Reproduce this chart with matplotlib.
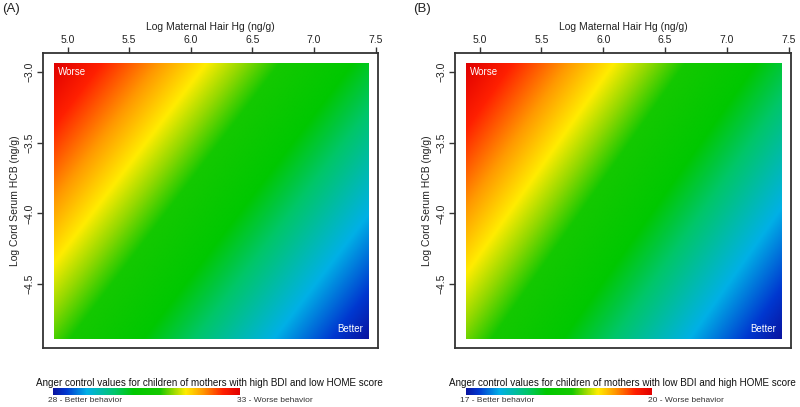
import numpy as np
import matplotlib
matplotlib.use("Agg")
import matplotlib.pyplot as plt
import matplotlib.tri as mtri
from matplotlib.colors import LinearSegmentedColormap, Normalize
from matplotlib.cm import ScalarMappable

plt.rcParams['font.family'] = ['Liberation Sans', 'DejaVu Sans']

# grid corners of the prediction surface
hg_edges = [4.89, 7.44]          # log maternal hair Hg
hcb_edges = [-4.887, -2.94]      # log cord serum HCB

# predicted anger control at corners: [[bottom-left, bottom-right], [top-left, top-right]]
anger_a = [[31.0, 28.0], [33.0, 30.0]]
anger_b = [[18.86, 17.0], [20.0, 18.14]]
range_a = [28, 33]
range_b = [17, 20]

panel_tags = ['(A)', '(B)']
cbar_titles = ['Anger control values for children of mothers with high BDI and low HOME score',
               'Anger control values for children of mothers with low BDI and high HOME score']
x_ticks = [5.0, 5.5, 6.0, 6.5, 7.0, 7.5]
y_ticks = [-3.0, -3.5, -4.0, -4.5]

stops = [(0.0, '#0a14a0'), (0.07, '#0038d0'), (0.18, '#00b0e6'), (0.33, '#00c66a'),
         (0.43, '#00c800'), (0.57, '#14c800'), (0.64, '#90d800'), (0.71, '#ffec00'),
         (0.80, '#ff9a00'), (0.91, '#ff2000'), (1.0, '#e00000')]
cmap = LinearSegmentedColormap.from_list('anger', stops, N=512)

fig = plt.figure(figsize=(8, 4.07), dpi=100)

panels = [
    dict(left=43, right=378, data=anger_a, rng=range_a, cb_left=53.3, cb_right=240, title_x=209.5,
         lab_l=48, lab_r=237, tag_x=2),
    dict(left=455, right=791, data=anger_b, rng=range_b, cb_left=466, cb_right=652, title_x=622,
         lab_l=460, lab_r=648, tag_x=413),
]

W, H = 800, 407
top, bottom = 53, 348
for i, p in enumerate(panels):
    ax = fig.add_axes([p['left'] / W, (H - bottom) / H, (p['right'] - p['left']) / W, (bottom - top) / H])
    z = np.array(p['data'])
    # linear surface through the corner values, evaluated by matplotlib's triangle interpolator
    cx = np.array([hg_edges[0], hg_edges[1], hg_edges[0], hg_edges[1]])
    cy = np.array([hcb_edges[0], hcb_edges[0], hcb_edges[1], hcb_edges[1]])
    tri = mtri.Triangulation(cx, cy, triangles=[[0, 1, 3], [0, 3, 2]])
    interp = mtri.LinearTriInterpolator(tri, z.ravel())
    gx, gy = np.meshgrid(np.linspace(hg_edges[0], hg_edges[1], 400),
                         np.linspace(hcb_edges[0], hcb_edges[1], 400))
    surf = interp(gx, gy)
    ax.imshow(surf, origin='lower', extent=[hg_edges[0], hg_edges[1], hcb_edges[0], hcb_edges[1]],
              cmap=cmap, vmin=p['rng'][0], vmax=p['rng'][1], aspect='auto', interpolation='bilinear')
    ax.set_xlim(4.80, 7.52)
    ax.set_ylim(-4.95, -2.868)
    ax.xaxis.tick_top()
    ax.xaxis.set_label_position('top')
    ax.set_xticks(x_ticks)
    ax.set_xticklabels([f'{t:.1f}' for t in x_ticks])
    ax.set_yticks(y_ticks)
    ax.set_yticklabels([f'{t:.1f}'.replace('-', '\u2212') for t in y_ticks], rotation=90, va='center')
    ax.tick_params(direction='out', length=4, width=1, colors='#333333', labelsize=7.5,
                   labelcolor='#222222', pad=2)
    ax.set_xlabel('Log Maternal Hair Hg (ng/g)', fontsize=7.5, labelpad=3, color='#222222')
    ax.set_ylabel('Log Cord Serum HCB (ng/g)', fontsize=7.5, labelpad=3, color='#222222')
    for s in ax.spines.values():
        s.set_color('#333333')
        s.set_linewidth(1.3)
    ax.text(4.92, -3.0, 'Worse', color='white', fontsize=7, va='center', ha='left')
    ax.text(7.40, -4.815, 'Better', color='white', fontsize=7, va='center', ha='right')

    fig.text(p['tag_x'] / W, 1 - 9 / H, panel_tags[i],
             fontsize=9.5, va='center', ha='left', color='#222222')

    cax = fig.add_axes([p['cb_left'] / W, (H - 395) / H, (p['cb_right'] - p['cb_left']) / W, 7 / H])
    sm = ScalarMappable(norm=Normalize(p['rng'][0], p['rng'][1]), cmap=cmap)
    cb = fig.colorbar(sm, cax=cax, orientation='horizontal')
    cb.outline.set_visible(False)
    cb.set_ticks([])
    fig.text(p['title_x'] / W, 1 - 383 / H, cbar_titles[i], fontsize=7.1, ha='center', va='center',
             color='#111111')
    fig.text(p['lab_l'] / W, 1 - 400 / H, f"{p['rng'][0]} - Better behavior", fontsize=6.0,
             ha='left', va='center', color='#333333')
    fig.text(p['lab_r'] / W, 1 - 400 / H, f"{p['rng'][1]} - Worse behavior", fontsize=6.0,
             ha='left', va='center', color='#333333')

fig.savefig('out.png', dpi=100)
